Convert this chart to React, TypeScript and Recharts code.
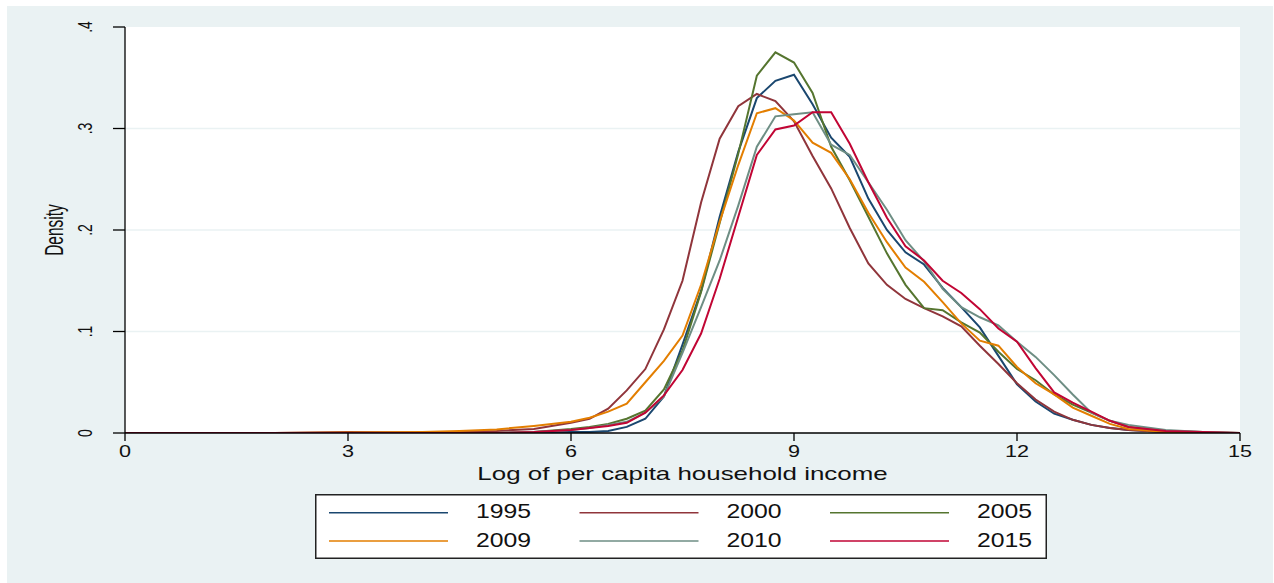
import React from "react";
import { LineChart, Line, XAxis, YAxis, CartesianGrid, Legend } from "recharts";

const xs = [0, 1, 2, 3, 4, 4.5, 5, 5.5, 6, 6.25, 6.5, 6.75, 7, 7.25, 7.5, 7.75, 8, 8.25, 8.5, 8.75, 9, 9.25, 9.5, 9.75, 10, 10.25, 10.5, 10.75, 11, 11.25, 11.5, 11.75, 12, 12.25, 12.5, 12.75, 13, 13.25, 13.5, 14, 14.5, 15];

const y1995 = [0, 0, 0, 0, 0, 0, 0, 0.0005, 0.001, 0.001, 0.002, 0.006, 0.014, 0.036, 0.087, 0.14, 0.213, 0.277, 0.33, 0.347, 0.353, 0.324, 0.291, 0.272, 0.231, 0.2, 0.178, 0.166, 0.143, 0.124, 0.104, 0.076, 0.048, 0.031, 0.019, 0.013, 0.008, 0.005, 0.003, 0.001, 0, 0];
const y2000 = [0, 0, 0, 0.001, 0.0005, 0.001, 0.002, 0.004, 0.01, 0.014, 0.024, 0.042, 0.063, 0.102, 0.15, 0.227, 0.29, 0.322, 0.334, 0.327, 0.307, 0.273, 0.241, 0.202, 0.167, 0.146, 0.132, 0.123, 0.115, 0.105, 0.086, 0.068, 0.049, 0.033, 0.021, 0.013, 0.008, 0.005, 0.003, 0.001, 0, 0];
const y2005 = [0, 0, 0, 0, 0, 0, 0, 0.001, 0.004, 0.006, 0.009, 0.014, 0.022, 0.043, 0.081, 0.139, 0.207, 0.275, 0.352, 0.375, 0.365, 0.335, 0.282, 0.249, 0.213, 0.177, 0.146, 0.123, 0.121, 0.109, 0.099, 0.08, 0.063, 0.052, 0.038, 0.028, 0.02, 0.012, 0.006, 0.002, 0.001, 0];
const y2009 = [0, 0, 0, 0.0005, 0.001, 0.002, 0.0035, 0.007, 0.011, 0.015, 0.021, 0.029, 0.05, 0.071, 0.096, 0.146, 0.208, 0.264, 0.315, 0.32, 0.308, 0.286, 0.276, 0.25, 0.217, 0.188, 0.163, 0.149, 0.129, 0.108, 0.091, 0.086, 0.065, 0.049, 0.038, 0.025, 0.017, 0.009, 0.004, 0.001, 0, 0];
const y2010 = [0, 0, 0, 0, 0, 0, 0, 0.001, 0.003, 0.005, 0.008, 0.011, 0.02, 0.036, 0.079, 0.124, 0.17, 0.224, 0.282, 0.312, 0.314, 0.316, 0.284, 0.274, 0.247, 0.22, 0.19, 0.169, 0.142, 0.124, 0.114, 0.106, 0.09, 0.075, 0.057, 0.038, 0.02, 0.012, 0.008, 0.003, 0.001, 0];
const y2015 = [0, 0, 0, 0, 0, 0, 0, 0.001, 0.003, 0.005, 0.007, 0.01, 0.02, 0.037, 0.062, 0.098, 0.152, 0.213, 0.274, 0.299, 0.303, 0.316, 0.316, 0.285, 0.247, 0.212, 0.184, 0.17, 0.15, 0.138, 0.122, 0.103, 0.09, 0.064, 0.04, 0.03, 0.021, 0.012, 0.006, 0.002, 0.001, 0];

const seriesNames = ["1995", "2000", "2005", "2009", "2010", "2015"];
const seriesValues = [y1995, y2000, y2005, y2009, y2010, y2015];
const seriesColors = ["#1A476F", "#90353B", "#55752F", "#E37E00", "#6E8E84", "#C10534"];

const xTicks = [0, 3, 6, 9, 12, 15];
const yTicks = [0, 0.1, 0.2, 0.3, 0.4];

const xTitle = "Log of per capita household income";
const yTitle = "Density";

const data = xs.map((x, i) => {
  const row: Record<string, number> = { x };
  seriesNames.forEach((n, j) => {
    row[n] = seriesValues[j][i];
  });
  return row;
});

const FONT = "'Liberation Sans', Arial, sans-serif";
const BG = "#EAF2F3";

const fmtY = (v: number) => (v === 0 ? "0" : String(Math.round(v * 10) / 10).replace(/^0/, ""));

const XTick = (props: any) => {
  const { x, y, payload } = props;
  return (
    <text transform={`translate(${x},${y + 14}) scale(1.35,1)`} textAnchor="middle" fontSize={16} fontFamily={FONT} fill="#111">
      {payload.value}
    </text>
  );
};

const YTick = (props: any) => {
  const { x, y, payload } = props;
  return (
    <text transform={`translate(${x},${y}) rotate(-90) scale(1,1.4)`} textAnchor="middle" fontSize={14} fontFamily={FONT} fill="#111">
      {fmtY(payload.value)}
    </text>
  );
};

const XLabel = (props: any) => {
  const vb = props.viewBox || {};
  return (
    <text transform={`translate(${vb.x + vb.width / 2},${vb.y + 47}) scale(1.4,1)`} textAnchor="middle" fontSize={18.5} fontFamily={FONT} fill="#111">
      {xTitle}
    </text>
  );
};

const YLabel = (props: any) => {
  const vb = props.viewBox || {};
  return (
    <text transform={`translate(${vb.x + 63},${vb.y + vb.height / 2}) rotate(-90) scale(1,1.7)`} textAnchor="middle" fontSize={15.5} fontFamily={FONT} fill="#111">
      {yTitle}
    </text>
  );
};

const LegendBox = () => {
  const w = 732;
  const h = 65;
  return (
    <svg width={w} height={h} style={{ display: "block" }}>
      <rect x={0.75} y={0.75} width={w - 1.5} height={h - 1.5} fill="#fff" stroke="#222" strokeWidth={1.5} />
      {seriesNames.map((n, i) => {
        const col = i % 3;
        const row = Math.floor(i / 3);
        const lx = 14 + col * 250.5;
        const ly = row === 0 ? 18.7 : 47;
        const ty = row === 0 ? 24.3 : 52.7;
        return (
          <g key={n}>
            <line x1={lx} x2={lx + 119} y1={ly} y2={ly} stroke={seriesColors[i]} strokeWidth={1.6} />
            <text transform={`translate(${lx + 147},${ty}) scale(1.24,1)`} fontSize={20} fontFamily={FONT} fill="#111">
              {n}
            </text>
          </g>
        );
      })}
    </svg>
  );
};

export default function App() {
  return (
    <div style={{ position: "absolute", left: 0, top: 0, width: 1274, height: 583, background: "#fff" }}>
      <div style={{ position: "absolute", left: 7, top: 6, width: 1266, height: 577, background: BG }} />
      <div style={{ position: "absolute", left: 0, top: 0 }}>
        <LineChart width={1274} height={583} data={data} margin={{ top: 27, right: 34, left: 0, bottom: 0 }}>
          <CartesianGrid fill="#fff" stroke={BG} strokeWidth={1.5} vertical={false} horizontalValues={[0.1, 0.2, 0.3]} />
          <XAxis
            dataKey="x"
            type="number"
            domain={[0, 15]}
            ticks={xTicks}
            interval={0}
            height={150}
            tickSize={8}
            tickMargin={2}
            stroke="#000"
            strokeWidth={1.3}
            tick={<XTick />}
            label={<XLabel />}
            allowDataOverflow
          />
          <YAxis
            type="number"
            domain={[0, 0.4]}
            ticks={yTicks}
            interval={0}
            width={125}
            tickSize={12}
            tickMargin={21}
            stroke="#000"
            strokeWidth={1.3}
            tick={<YTick />}
            label={<YLabel />}
            allowDataOverflow
          />
          {seriesNames.map((n, i) => (
            <Line
              key={n}
              dataKey={n}
              name={n}
              type="linear"
              stroke={seriesColors[i]}
              strokeWidth={2}
              dot={false}
              activeDot={false}
              isAnimationActive={false}
            />
          ))}
          <Legend
            layout="horizontal"
            verticalAlign="middle"
            align="center"
            content={<LegendBox />}
            wrapperStyle={{ left: 315, top: 494, width: 732, height: 65, bottom: "auto", right: "auto" }}
          />
        </LineChart>
      </div>
    </div>
  );
}
